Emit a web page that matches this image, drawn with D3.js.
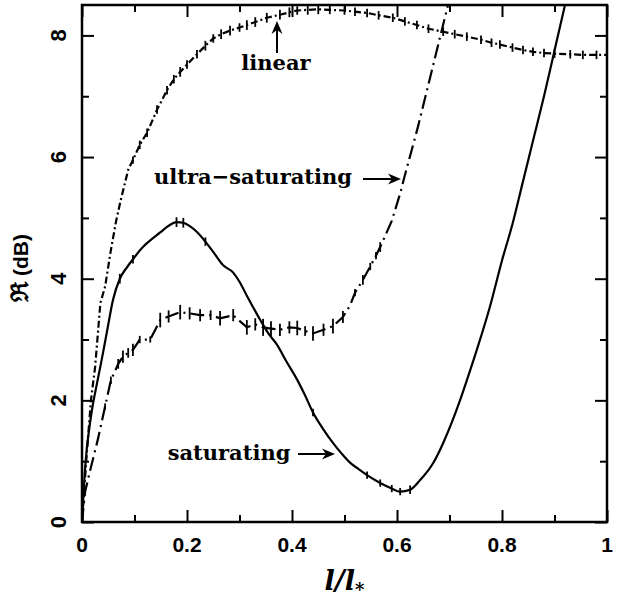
<!DOCTYPE html>
<html>
<head>
<meta charset="utf-8">
<script src="https://cdn.jsdelivr.net/npm/d3@7"></script>
<style>
  body { margin: 0; background: #fff; }
  svg { display: block; }
</style>
</head>
<body>
<script>
// curve data (l/l*, R in dB, error half-height in dB)
const linX = [0, 0.008, 0.017, 0.025, 0.035, 0.044, 0.055, 0.065, 0.074, 0.088, 0.097, 0.11, 0.124, 0.143, 0.162, 0.175, 0.187, 0.2, 0.219, 0.235, 0.25, 0.265, 0.282, 0.3, 0.314, 0.33, 0.352, 0.377, 0.395, 0.41, 0.43, 0.45, 0.472, 0.5, 0.52, 0.543, 0.565, 0.592, 0.615, 0.638, 0.66, 0.688, 0.71, 0.733, 0.76, 0.78, 0.796, 0.82, 0.84, 0.859, 0.88, 0.9, 0.93, 0.954, 0.98, 1.0];
const linR = [0, 1.0, 2.0, 2.55, 3.6, 3.87, 4.47, 4.95, 5.3, 5.79, 5.95, 6.2, 6.4, 6.78, 7.1, 7.28, 7.4, 7.52, 7.69, 7.83, 7.95, 8.02, 8.08, 8.13, 8.17, 8.22, 8.29, 8.34, 8.38, 8.41, 8.42, 8.43, 8.42, 8.41, 8.39, 8.37, 8.33, 8.29, 8.23, 8.17, 8.11, 8.06, 8.02, 7.98, 7.93, 7.88, 7.85, 7.8, 7.76, 7.73, 7.71, 7.70, 7.69, 7.68, 7.68, 7.68];
const linErr = [0, 0, 0, 0, 0, 0, 0, 0, 0, 0, 0.06, 0.07, 0.07, 0.07, 0.07, 0.07, 0.08, 0.07, 0.07, 0.08, 0.07, 0.08, 0.08, 0.07, 0.08, 0.08, 0.08, 0.08, 0.08, 0.07, 0.08, 0.08, 0.07, 0.07, 0.07, 0.07, 0.07, 0.07, 0.07, 0.07, 0.07, 0.07, 0.07, 0.07, 0.07, 0.07, 0.07, 0.07, 0.07, 0.07, 0.07, 0.07, 0.07, 0.07, 0.07, 0.07];

const ultX = [0, 0.006, 0.017, 0.03, 0.044, 0.055, 0.069, 0.078, 0.088, 0.097, 0.11, 0.13, 0.149, 0.165, 0.187, 0.205, 0.225, 0.245, 0.263, 0.288, 0.314, 0.33, 0.345, 0.36, 0.377, 0.395, 0.41, 0.425, 0.44, 0.46, 0.478, 0.497, 0.51, 0.52, 0.535, 0.549, 0.56, 0.568, 0.59, 0.606, 0.615, 0.64, 0.66, 0.68, 0.70];
const ultR = [0, 0.5, 0.9, 1.35, 1.9, 2.33, 2.6, 2.72, 2.78, 2.83, 3.0, 3.0, 3.32, 3.38, 3.45, 3.43, 3.4, 3.4, 3.35, 3.4, 3.2, 3.25, 3.2, 3.18, 3.16, 3.2, 3.19, 3.14, 3.1, 3.16, 3.22, 3.37, 3.55, 3.77, 3.98, 4.2, 4.38, 4.52, 4.95, 5.4, 5.7, 6.5, 7.2, 7.9, 8.6];
const ultErr = [0, 0, 0, 0, 0.05, 0.06, 0.08, 0.1, 0.08, 0.1, 0.06, 0.05, 0.12, 0.1, 0.12, 0.1, 0.1, 0.08, 0.12, 0.1, 0.12, 0.1, 0.14, 0.12, 0.1, 0.1, 0.12, 0.08, 0.12, 0.1, 0.12, 0.1, 0, 0.06, 0.08, 0.06, 0.06, 0.08, 0, 0, 0, 0, 0, 0, 0];

const satX = [0, 0.006, 0.017, 0.029, 0.036, 0.048, 0.059, 0.072, 0.085, 0.097, 0.116, 0.13, 0.149, 0.165, 0.18, 0.193, 0.206, 0.22, 0.235, 0.25, 0.269, 0.288, 0.3, 0.314, 0.339, 0.355, 0.371, 0.39, 0.411, 0.425, 0.44, 0.46, 0.478, 0.495, 0.51, 0.525, 0.543, 0.568, 0.59, 0.606, 0.625, 0.644, 0.669, 0.688, 0.704, 0.72, 0.733, 0.752, 0.777, 0.8, 0.82, 0.84, 0.86, 0.88, 0.9, 0.92];
const satR = [0, 0.9, 1.73, 2.3, 2.6, 3.15, 3.65, 4.0, 4.18, 4.32, 4.52, 4.63, 4.76, 4.87, 4.93, 4.92, 4.86, 4.76, 4.61, 4.44, 4.22, 4.1, 3.95, 3.72, 3.33, 3.1, 2.92, 2.63, 2.32, 2.08, 1.8, 1.52, 1.3, 1.12, 0.98, 0.88, 0.77, 0.64, 0.55, 0.5, 0.53, 0.69, 0.97, 1.3, 1.63, 2.0, 2.33, 2.83, 3.54, 4.3, 4.9, 5.6, 6.3, 7.0, 7.75, 8.5];
const satErr = [0, 0, 0, 0, 0, 0, 0, 0.08, 0, 0.07, 0, 0, 0, 0, 0.08, 0.08, 0, 0, 0.07, 0, 0, 0, 0, 0, 0, 0, 0, 0, 0, 0, 0.06, 0, 0, 0, 0, 0, 0.06, 0.06, 0.06, 0.06, 0.07, 0, 0, 0, 0, 0, 0, 0, 0, 0, 0, 0, 0, 0, 0, 0];

const xMajor = [0, 0.2, 0.4, 0.6, 0.8, 1];
const xMinor = [0.1, 0.3, 0.5, 0.7, 0.9];
const yMajor = [0, 2, 4, 6, 8];
const yMinor = [1, 3, 5, 7];

const labels = [
  {name: "linear", tx: 276, ty: 70, x1: 277, y1: 53, x2: 277, y2: 21},
  {name: "ultra\u2212saturating", tx: 253, ty: 184, x1: 363, y1: 179, x2: 401, y2: 179},
  {name: "saturating", tx: 229, ty: 460, x1: 298, y1: 454, x2: 335, y2: 454}
];

const width = 619;
const height = 605;
const mLeft = 82, mRight = 607, mTop = 5, mBottom = 522;

const svg = d3.select("body")
  .append("svg")
  .attr("width", width)
  .attr("height", height);

const x = d3.scaleLinear().domain([0, 1]).range([mLeft, mRight]);
const y = d3.scaleLinear().domain([0, 8.5]).range([mBottom, mTop]);

svg.append("defs")
  .append("clipPath")
  .attr("id", "plotclip")
  .append("rect")
  .attr("x", mLeft)
  .attr("y", mTop)
  .attr("width", mRight - mLeft)
  .attr("height", mBottom - mTop);

// ticks on all four sides, pointing inward
function tickAxes(vals, len) {
  svg.append("g").attr("transform", `translate(0,${mBottom})`)
    .call(d3.axisBottom(x).tickValues(vals).tickSize(-len).tickFormat(""));
  svg.append("g").attr("transform", `translate(0,${mTop})`)
    .call(d3.axisTop(x).tickValues(vals).tickSize(-len).tickFormat(""));
}
function tickAxesY(vals, len) {
  svg.append("g").attr("transform", `translate(${mLeft},0)`)
    .call(d3.axisLeft(y).tickValues(vals).tickSize(-len).tickFormat(""));
  svg.append("g").attr("transform", `translate(${mRight},0)`)
    .call(d3.axisRight(y).tickValues(vals).tickSize(-len).tickFormat(""));
}
tickAxes(xMajor, 12);
tickAxes(xMinor, 7);
tickAxesY(yMajor, 12);
tickAxesY(yMinor, 7);
svg.selectAll(".domain").remove();
svg.selectAll(".tick line").attr("stroke", "#000").attr("stroke-width", 2);

svg.append("rect")
  .attr("x", mLeft)
  .attr("y", mTop)
  .attr("width", mRight - mLeft)
  .attr("height", mBottom - mTop)
  .attr("fill", "none")
  .attr("stroke", "#000")
  .attr("stroke-width", 2.5);

// tick labels
svg.append("g")
  .selectAll("text")
  .data(xMajor)
  .enter()
  .append("text")
  .attr("x", d => x(d))
  .attr("y", mBottom + 30)
  .attr("text-anchor", "middle")
  .style("font-family", "'Liberation Sans', Arial, sans-serif")
  .style("font-weight", "bold")
  .style("font-size", "21px")
  .text(d => String(d));

svg.append("g")
  .selectAll("text")
  .data(yMajor)
  .enter()
  .append("text")
  .attr("transform", d => `translate(${mLeft - 16},${y(d)}) rotate(-90)`)
  .attr("text-anchor", "middle")
  .style("font-family", "'Liberation Sans', Arial, sans-serif")
  .style("font-weight", "bold")
  .style("font-size", "22px")
  .text(d => String(d));

// axis titles
const yt = svg.append("text")
  .attr("transform", `translate(28,268) rotate(-90)`)
  .attr("text-anchor", "middle")
  .style("font-family", "'Liberation Sans', Arial, sans-serif")
  .style("font-weight", "bold")
  .style("font-size", "21px");
yt.append("tspan").style("font-family", "'DejaVu Serif', serif").style("font-size", "24px").text("\u211C");
yt.append("tspan").text(" (dB)");

const xt = svg.append("text")
  .attr("x", (mLeft + mRight) / 2)
  .attr("y", 590)
  .attr("text-anchor", "middle")
  .style("font-family", "'DejaVu Serif', serif")
  .style("font-weight", "bold")
  .style("font-style", "italic")
  .style("font-size", "27px");
xt.append("tspan").text("l/l");
xt.append("tspan").attr("dy", 6).style("font-size", "18px").text("*");

// curves
const plot = svg.append("g").attr("clip-path", "url(#plotclip)");

const series = [
  {xs: linX, rs: linR, es: linErr, dash: "7,3,2,3", curve: d3.curveLinear},
  {xs: ultX, rs: ultR, es: ultErr, dash: "14,5,2,5", curve: d3.curveLinear},
  {xs: satX, rs: satR, es: satErr, dash: null, curve: d3.curveMonotoneX}
];

series.forEach(s => {
  const pts = s.xs.map((v, i) => ({x: v, r: s.rs[i], e: s.es[i]}));
  const line = d3.line().x(d => x(d.x)).y(d => y(d.r)).curve(s.curve);
  plot.append("path")
    .datum(pts)
    .attr("d", line)
    .attr("fill", "none")
    .attr("stroke", "#000")
    .attr("stroke-width", 2.2)
    .attr("stroke-dasharray", s.dash);
  plot.selectAll(null)
    .data(pts.filter(d => d.e > 0))
    .enter()
    .append("line")
    .attr("x1", d => x(d.x))
    .attr("x2", d => x(d.x))
    .attr("y1", d => y(d.r - d.e))
    .attr("y2", d => y(d.r + d.e))
    .attr("stroke", "#000")
    .attr("stroke-width", 1.8);
});

// annotations with arrows
labels.forEach(l => {
  svg.append("text")
    .attr("x", l.tx)
    .attr("y", l.ty)
    .attr("text-anchor", "middle")
    .style("font-family", "'DejaVu Serif', serif")
    .style("font-weight", "bold")
    .style("font-size", "21px")
    .text(l.name);
  const ang = Math.atan2(l.y2 - l.y1, l.x2 - l.x1);
  const len = 13, w = 5.5;
  const bx = l.x2 - len * Math.cos(ang), by = l.y2 - len * Math.sin(ang);
  const nx = -Math.sin(ang) * w, ny = Math.cos(ang) * w;
  const ix = l.x2 - len * 0.7 * Math.cos(ang), iy = l.y2 - len * 0.7 * Math.sin(ang);
  svg.append("line")
    .attr("x1", l.x1).attr("y1", l.y1)
    .attr("x2", ix).attr("y2", iy)
    .attr("stroke", "#000")
    .attr("stroke-width", 2);
  svg.append("path")
    .attr("d", `M${l.x2},${l.y2}L${bx + nx},${by + ny}L${ix},${iy}L${bx - nx},${by - ny}Z`)
    .attr("fill", "#000");
});
</script>
</body>
</html>
